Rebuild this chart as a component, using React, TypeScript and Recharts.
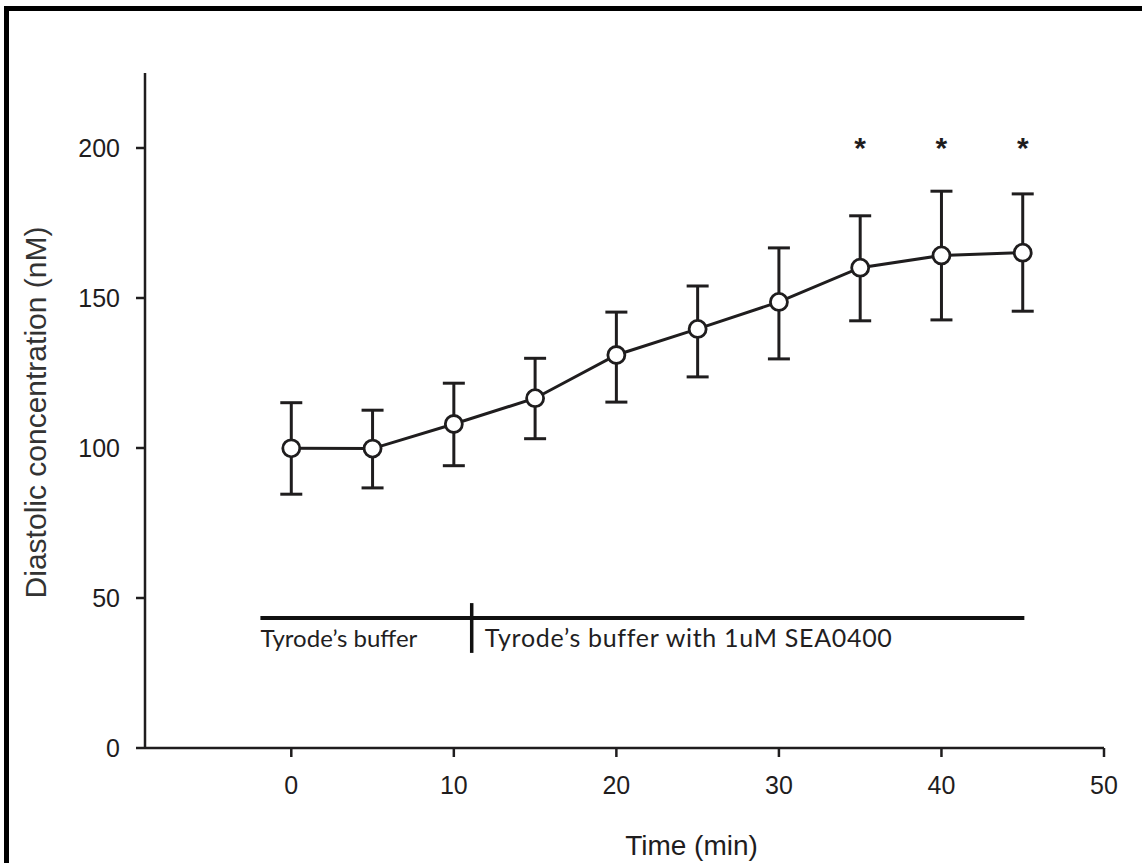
import React from 'react';
import {
  ComposedChart,
  Line,
  XAxis,
  YAxis,
  ErrorBar,
  Scatter,
  ReferenceLine,
  ReferenceDot,
} from 'recharts';

// ---- data ----
const times = [0, 5, 10, 15, 20, 25, 30, 35, 40, 45];
const means = [99.9, 99.8, 108, 116.6, 131, 139.7, 148.7, 160.1, 164.2, 165.1];
const upperBounds = [115.1, 112.6, 121.6, 129.9, 145.3, 154, 166.7, 177.4, 185.6, 184.7];
const lowerBounds = [84.6, 86.7, 94.1, 103.1, 115.3, 123.7, 129.7, 142.4, 142.7, 145.6];

const starTimes = [35, 40, 45];
const starLevel = 202.5;

const xTicks = [0, 10, 20, 30, 40, 50];
const yTicks = [0, 50, 100, 150, 200];

const bufferBarLevel = 43.3;
const bufferBarStart = -1.9;
const bufferBarEnd = 45.1;
const switchTime = 11.1;
const switchTickTop = 48.3;
const switchTickBottom = 31.7;
const labelLevel = 36.5;
const label1Start = -1.9;
const label2Start = 11.9;
const label1Text = 'Tyrode’s buffer';
const label2Text = 'Tyrode’s buffer with 1uM SEA0400';

const xTitle = 'Time (min)';
const yTitle = 'Diastolic concentration (nM)';

// ---- tables built from the arrays ----
const tableData = times.map((t, i) => ({
  t,
  mean: means[i],
  err: [means[i] - lowerBounds[i], upperBounds[i] - means[i]],
}));
const starData = starTimes.map((t) => ({ t, y: starLevel }));

const INK = '#1f1d1e';
const FONT = '"Liberation Sans", Arial, sans-serif';

const StarShape = (props: any) => {
  const { cx, cy } = props;
  const fs = 30;
  return (
    <text x={cx} y={cy + fs * 0.57} textAnchor="middle" fontFamily={FONT} fontWeight="bold" fontSize={fs} fill={INK}>
      *
    </text>
  );
};

const AnnoText = (props: any) => {
  const { viewBox, text, size, spacing } = props;
  if (!viewBox) return null;
  return (
    <text
      x={viewBox.x}
      y={viewBox.y}
      dy="0.35em"
      fontFamily="Lato, 'Open Sans', sans-serif"
      fontSize={size}
      letterSpacing={spacing}
      fill="#221e1f"
    >
      {text}
    </text>
  );
};

const XTitle = (props: any) => {
  const { viewBox } = props;
  if (!viewBox) return null;
  return (
    <text
      x={viewBox.x + viewBox.width / 2 + 67}
      y={viewBox.y + 97}
      dy="0.35em"
      textAnchor="middle"
      fontFamily={FONT}
      fontSize={28}
      fill={INK}
    >
      {xTitle}
    </text>
  );
};

const YTitle = (props: any) => {
  const { viewBox } = props;
  if (!viewBox) return null;
  const cx = viewBox.x - 50;
  const cy = viewBox.y + viewBox.height / 2 + 2;
  return (
    <text
      x={cx}
      y={cy}
      dy="0.35em"
      textAnchor="middle"
      transform={`rotate(-90, ${cx}, ${cy})`}
      fontFamily={FONT}
      fontSize={30}
      fill="#333"
    >
      {yTitle}
    </text>
  );
};

export default function App() {
  return (
    <div style={{ position: 'absolute', left: 0, top: 0, width: 1142, height: 863, background: '#fff', overflow: 'hidden' }}>
      <div style={{ position: 'absolute', left: 4, top: 6, width: 1138, height: 5, background: '#000' }} />
      <div style={{ position: 'absolute', left: 4, top: 6, width: 5, height: 857, background: '#000' }} />
      <div style={{ position: 'absolute', left: 0, top: 0 }}>
        <ComposedChart
          width={1142}
          height={863}
          data={tableData}
          margin={{ top: 73, right: 38, bottom: 85, left: 85 }}
        >
          <XAxis
            dataKey="t"
            type="number"
            domain={[-9, 50]}
            ticks={xTicks}
            allowDataOverflow
            height={30}
            tickSize={9}
            tickMargin={19}
            axisLine={{ stroke: INK, strokeWidth: 2.5 }}
            tickLine={{ stroke: INK, strokeWidth: 2.5 }}
            tick={{ fill: INK, fontSize: 25, fontFamily: FONT }}
            label={<XTitle />}
          />
          <YAxis
            type="number"
            domain={[0, 225]}
            ticks={yTicks}
            allowDataOverflow
            width={60}
            tickSize={9}
            tickMargin={16}
            axisLine={{ stroke: INK, strokeWidth: 2.5 }}
            tickLine={{ stroke: INK, strokeWidth: 2.5 }}
            tick={{ fill: INK, fontSize: 25, fontFamily: FONT }}
            label={<YTitle />}
          />
          <ReferenceLine
            segment={[
              { x: bufferBarStart, y: bufferBarLevel },
              { x: bufferBarEnd, y: bufferBarLevel },
            ]}
            stroke="#111"
            strokeWidth={4}
          />
          <ReferenceLine
            segment={[
              { x: switchTime, y: switchTickTop },
              { x: switchTime, y: switchTickBottom },
            ]}
            stroke="#111"
            strokeWidth={3.5}
          />
          <ReferenceDot x={label1Start} y={labelLevel} r={0} fill="none" stroke="none" label={<AnnoText text={label1Text} size={24} spacing={0} />} />
          <ReferenceDot x={label2Start} y={labelLevel} r={0} fill="none" stroke="none" label={<AnnoText text={label2Text} size={25} spacing={0.7} />} />
          <Line
            dataKey="mean"
            stroke={INK}
            strokeWidth={3}
            isAnimationActive={false}
            dot={{ r: 8.5, fill: '#fff', stroke: INK, strokeWidth: 2.8 }}
            activeDot={false}
          >
            <ErrorBar dataKey="err" direction="y" width={11} stroke={INK} strokeWidth={3} />
          </Line>
          <Scatter data={starData} dataKey="y" isAnimationActive={false} shape={<StarShape />} />
        </ComposedChart>
      </div>
    </div>
  );
}
